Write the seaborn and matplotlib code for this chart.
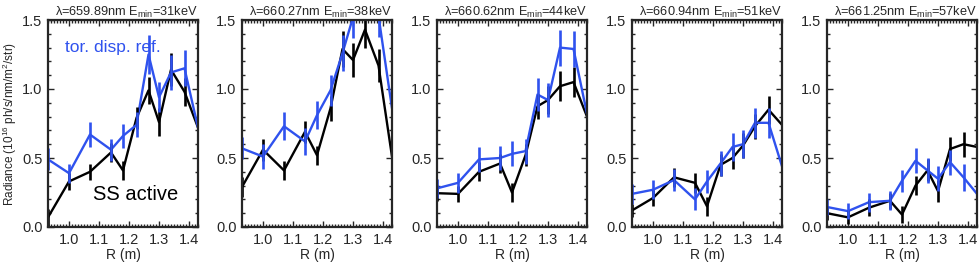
import numpy as np
import pandas as pd
import matplotlib
matplotlib.use("Agg")
import matplotlib.pyplot as plt
from matplotlib.ticker import MultipleLocator
import seaborn as sns

# Radial positions (m) shared by every panel
radius = [0.93, 1.00, 1.07, 1.14, 1.18, 1.225, 1.265, 1.30, 1.34, 1.385, 1.43]

# Panel titles
wavelengths = ["659.89", "660.27", "660.62", "660.94", "661.25"]
energies = ["31", "38", "44", "51", "57"]

# SS active (black) radiance and errors, one list per panel
ss_active = [
    [0.07, 0.33, 0.40, 0.54, 0.41, 0.79, 0.99, 0.76, 1.14, 0.98, 0.72],
    [0.29, 0.56, 0.41, 0.69, 0.52, 0.86, 1.29, 1.21, 1.43, 1.17, 0.51],
    [0.245, 0.24, 0.40, 0.46, 0.25, 0.52, 0.875, 0.92, 1.02, 1.05, 0.80],
    [0.12, 0.21, 0.36, 0.32, 0.15, 0.45, 0.50, 0.59, 0.73, 0.85, 0.74],
    [0.10, 0.07, 0.14, 0.19, 0.09, 0.30, 0.41, 0.26, 0.565, 0.60, 0.58],
]
ss_err = [
    [0.06, 0.06, 0.06, 0.07, 0.07, 0.08, 0.10, 0.10, 0.12, 0.10, 0.10],
    [0.07, 0.08, 0.07, 0.08, 0.07, 0.09, 0.13, 0.12, 0.13, 0.12, 0.10],
    [0.06, 0.06, 0.07, 0.07, 0.07, 0.08, 0.09, 0.10, 0.11, 0.11, 0.10],
    [0.05, 0.06, 0.07, 0.07, 0.07, 0.08, 0.08, 0.09, 0.09, 0.10, 0.10],
    [0.05, 0.05, 0.06, 0.06, 0.06, 0.07, 0.08, 0.08, 0.09, 0.09, 0.09],
]

# toroidal dispersion reference (blue) radiance and errors
tor_ref = [
    [0.49, 0.39, 0.67, 0.56, 0.66, 0.74, 1.25, 0.94, 1.12, 1.15, 0.72],
    [0.57, 0.51, 0.73, 0.62, 0.81, 0.99, 1.26, 1.52, 1.80, 1.53, 0.86],
    [0.28, 0.32, 0.49, 0.50, 0.53, 0.55, 0.96, 0.92, 1.30, 1.29, 0.82],
    [0.24, 0.27, 0.34, 0.20, 0.33, 0.46, 0.58, 0.60, 0.755, 0.755, 0.44],
    [0.145, 0.115, 0.18, 0.19, 0.335, 0.48, 0.41, 0.35, 0.47, 0.36, 0.24],
]
tor_err = [
    [0.08, 0.07, 0.09, 0.08, 0.09, 0.09, 0.14, 0.11, 0.13, 0.13, 0.10],
    [0.08, 0.09, 0.10, 0.10, 0.10, 0.11, 0.13, 0.15, 0.16, 0.15, 0.12],
    [0.07, 0.07, 0.09, 0.09, 0.09, 0.09, 0.12, 0.12, 0.13, 0.13, 0.12],
    [0.07, 0.07, 0.08, 0.08, 0.08, 0.09, 0.10, 0.10, 0.11, 0.11, 0.12],
    [0.06, 0.06, 0.07, 0.07, 0.08, 0.09, 0.09, 0.09, 0.09, 0.10, 0.10],
]

blue = "#2f52ee"

sns.set_style("ticks")
plt.rcParams["font.family"] = ["Liberation Sans", "DejaVu Sans"]
plt.rcParams["mathtext.fontset"] = "custom"
plt.rcParams["mathtext.rm"] = "Liberation Sans"

fig = plt.figure(figsize=(9.8, 2.62), dpi=100)

lefts = [48, 242, 437, 632, 827]
for i in range(5):
    ax = fig.add_axes([lefts[i] / 980, 35 / 262, 150 / 980, 207 / 262])

    df = pd.DataFrame({"R": radius, "ss": ss_active[i], "tor": tor_ref[i]})
    sns.lineplot(data=df, x="R", y="ss", color="black", lw=1.7, ax=ax)
    sns.lineplot(data=df, x="R", y="tor", color=blue, lw=1.7, ax=ax)

    # error bars
    r = np.array(radius)
    ss = np.array(ss_active[i])
    tr = np.array(tor_ref[i])
    ax.vlines(r, ss - np.array(ss_err[i]), ss + np.array(ss_err[i]), color="black", lw=1.9)
    ax.vlines(r, tr - np.array(tor_err[i]), tr + np.array(tor_err[i]), color=blue, lw=1.9)

    ax.set_xlim(0.93, 1.43)
    ax.set_ylim(0, 1.5)
    ax.xaxis.set_major_locator(MultipleLocator(0.1))
    ax.xaxis.set_minor_locator(MultipleLocator(0.01))
    ax.yaxis.set_major_locator(MultipleLocator(0.5))
    ax.yaxis.set_minor_locator(MultipleLocator(0.1))
    ax.tick_params(which="both", direction="in", top=True, right=True, labelsize=10.5, width=1.0)
    ax.tick_params(which="major", length=4, pad=4)
    ax.tick_params(which="minor", length=2)
    for s in ax.spines.values():
        s.set_linewidth(1.6)
    ax.set_xticks([1.0, 1.1, 1.2, 1.3, 1.4])
    ax.set_xticklabels(["1.0", "1.1", "1.2", "1.3", "1.4"])
    ax.set_yticks([0.0, 0.5, 1.0, 1.5])
    ax.set_yticklabels(["0.0", "0.5", "1.0", "1.5"])

    ax.set_xlabel("R (m)", fontsize=10, labelpad=1)
    ax.set_ylabel("")
    ax.set_title("λ=" + wavelengths[i] + "nm E$_{\\mathrm{min}}$=" + energies[i] + "keV",
                 fontsize=9.2, pad=2, loc="right")

    if i == 0:
        ax.set_ylabel("Radiance (10$^{16}$ ph/s/nm/m$^2$/str)", fontsize=8.5, labelpad=2)
        ax.text(0.113, 0.845, "tor. disp. ref.", color=blue, fontsize=12.5,
                va="baseline", transform=ax.transAxes)
        ax.text(0.3, 0.13, "SS active", color="black", fontsize=14.5,
                va="baseline", transform=ax.transAxes)

fig.savefig("out.png", dpi=100)
